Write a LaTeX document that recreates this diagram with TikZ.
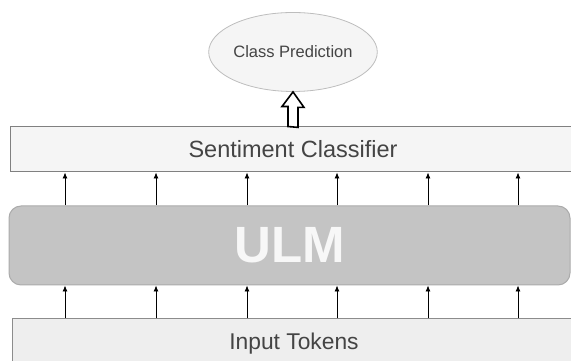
\documentclass[tikz,border=0pt]{standalone}
\usepackage{fontspec}
\setmainfont{Liberation Sans}
\usepackage{tikz}
\usetikzlibrary{arrows.meta,shapes.geometric,calc}

\definecolor{boxtext}{HTML}{444444}
\definecolor{clffill}{HTML}{F5F5F5}
\definecolor{clfdraw}{HTML}{808080}
\definecolor{ulmfill}{HTML}{C4C4C4}
\definecolor{ulmdraw}{HTML}{ABABAB}
\definecolor{ulmtext}{HTML}{F7F7F7}
\definecolor{inpfill}{HTML}{EEEEEE}
\definecolor{inpdraw}{HTML}{8C8C8C}
\definecolor{predfill}{HTML}{F5F5F5}
\definecolor{preddraw}{HTML}{BDBDBD}

\begin{document}
\begin{tikzpicture}[x=1pt,y=1pt,
  layer/.style={draw, line width=1pt, inner sep=0pt, text=boxtext},
  feed/.style={draw=black, line width=0.8pt, -{Latex[length=6pt,width=5pt]}},
  hollowarrow/.style={draw=black, fill=white, line width=1.6pt}]
\useasboundingbox (0,0) rectangle (571,361);

\node [ellipse, draw=preddraw, fill=predfill, line width=0.8pt, inner sep=0pt,
  minimum width=136pt, minimum height=79pt, text=boxtext,
  font=\fontsize{16.5}{18}\selectfont] (pred) at (293,309) {Class Prediction};

\node [layer, draw=clfdraw, fill=clffill, minimum width=566pt, minimum height=45pt,
  font=\fontsize{23.5}{26}\selectfont] (clf) at (293,211.5) {Sentiment Classifier};

\node [layer, draw=ulmdraw, fill=ulmfill, rounded corners=12pt, minimum width=561pt,
  minimum height=79pt, text=ulmtext, font=\fontsize{51}{56}\selectfont\bfseries]
  (ulm) at (289.5,115.5) {ULM};

\node [layer, draw=inpdraw, fill=inpfill, minimum width=564pt, minimum height=50pt,
  font=\fontsize{22.8}{25}\selectfont] (inp) at (294,17) {Input Tokens};

% from ULM to classifier
\draw [feed] (65,0 |- ulm.north) -- (65,0 |- clf.south);
\draw [feed] (156,0 |- ulm.north) -- (156,0 |- clf.south);
\draw [feed] (247,0 |- ulm.north) -- (247,0 |- clf.south);
\draw [feed] (337,0 |- ulm.north) -- (337,0 |- clf.south);
\draw [feed] (428,0 |- ulm.north) -- (428,0 |- clf.south);
\draw [feed] (518,0 |- ulm.north) -- (518,0 |- clf.south);

% from tokens to ULM
\draw [feed] (65,0 |- inp.north) -- (65,0 |- ulm.south);
\draw [feed] (156,0 |- inp.north) -- (156,0 |- ulm.south);
\draw [feed] (247,0 |- inp.north) -- (247,0 |- ulm.south);
\draw [feed] (337,0 |- inp.north) -- (337,0 |- ulm.south);
\draw [feed] (428,0 |- inp.north) -- (428,0 |- ulm.south);
\draw [feed] (518,0 |- inp.north) -- (518,0 |- ulm.south);

% classifier to prediction
\draw [hollowarrow] ($(pred.south |- clf.north)+(-5,0)$) -- ++(0,20) -- ++(-6,0)
  -- (pred.south) -- ++(11,-15.5) -- ++(-6,0) -- ++(0,-20) -- cycle;

\end{tikzpicture}
\end{document}
